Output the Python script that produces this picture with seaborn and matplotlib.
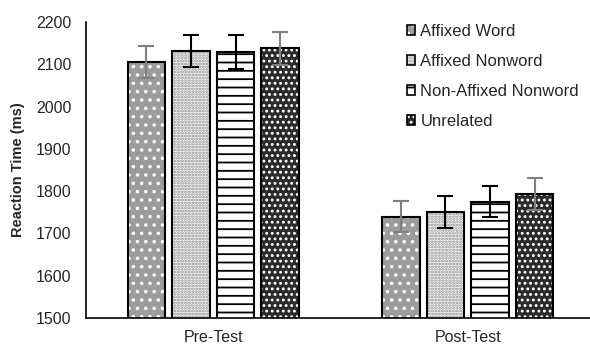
"""
Reaction time by test phase and prime condition
"""

import numpy as np
import pandas as pd
import matplotlib
matplotlib.use('Agg')
import matplotlib.pyplot as plt
from matplotlib.patches import Rectangle, Patch
from matplotlib.legend_handler import HandlerTuple
import seaborn as sns

# data
tests = ['Pre-Test', 'Post-Test']
conditions = ['Affixed Word', 'Affixed Nonword', 'Non-Affixed Nonword', 'Unrelated']
rt_pre = [2106, 2131, 2130, 2138]
rt_post = [1740, 1751, 1775, 1793]
err_pre = [38, 38, 40, 39]
err_post = [37, 37, 37, 37]

# styles per condition: face, hatch, hatch colour, error bar colour
faces = ['#9c9c9c', 'white', 'white', '#2a2a2a']
hatches = ['..', '......', '--', '...']
hatch_cols = ['white', '#8a8a8a', 'black', 'white']
err_cols = ['#808080', 'black', 'black', '#808080']

sns.set_style('white')
plt.rcParams['font.family'] = ['Liberation Sans', 'DejaVu Sans']
plt.rcParams['hatch.linewidth'] = 1.3

df = pd.DataFrame({
    'test': np.repeat(tests, len(conditions)),
    'condition': conditions * len(tests),
    'rt': rt_pre + rt_post,
})
errs = {c: (err_pre[i], err_post[i]) for i, c in enumerate(conditions)}

fig = plt.figure(figsize=(5.9, 3.49), dpi=100)
ax = fig.add_axes([86 / 590, 31 / 349, 509 / 590, 296 / 349])

sns.barplot(data=df, x='test', y='rt', hue='condition', order=tests,
            hue_order=conditions, errorbar=None, width=0.7, gap=0.15,
            legend=False, ax=ax)

handles = []
bar_conts = list(ax.containers)
for i, cont in enumerate(bar_conts):
    xs, hs = [], []
    for bar in cont:
        bar.set_facecolor(faces[i])
        bar.set_hatch(hatches[i])
        bar.set_edgecolor(hatch_cols[i])
        bar.set_linewidth(0)
        # black outline on top of the hatched fill
        ax.add_patch(Rectangle(bar.get_xy(), bar.get_width(), bar.get_height(),
                               fill=False, edgecolor='black', linewidth=1.5,
                               zorder=bar.get_zorder() + 0.1))
        xs.append(bar.get_x() + bar.get_width() / 2)
        hs.append(bar.get_height())
    ax.errorbar(xs, hs, yerr=errs[conditions[i]], fmt='none', ecolor=err_cols[i],
                elinewidth=1.5, capsize=5.5, capthick=1.5, zorder=5)
    handles.append((Patch(facecolor=faces[i], hatch=hatches[i], edgecolor=hatch_cols[i], linewidth=0),
                    Patch(fill=False, edgecolor='black', linewidth=1.2)))

ax.set_ylim(1500, 2200)
ax.set_xlim(-0.5, 1.5)
ax.set_yticks(range(1500, 2201, 100))
ax.set_xlabel('')
ax.set_ylabel('Reaction Time (ms)', fontsize=10.5, fontweight='bold', labelpad=8)
ax.tick_params(axis='y', labelsize=11.5, length=0, pad=10.5)
ax.tick_params(axis='x', labelsize=11.5, length=0, pad=9)
sns.despine(ax=ax)
for s in ['left', 'bottom']:
    ax.spines[s].set_color('black')
    ax.spines[s].set_linewidth(1.2)

fig.legend(handles, conditions, handler_map={tuple: HandlerTuple(ndivide=1)},
           loc='upper left', bbox_to_anchor=(407 / 590, 1 - 24 / 349),
           frameon=False, fontsize=12, labelspacing=0.9,
           handlelength=0.5, handleheight=0.5, handletextpad=0.3,
           borderpad=0, borderaxespad=0)

fig.savefig('out.png', dpi=100)
